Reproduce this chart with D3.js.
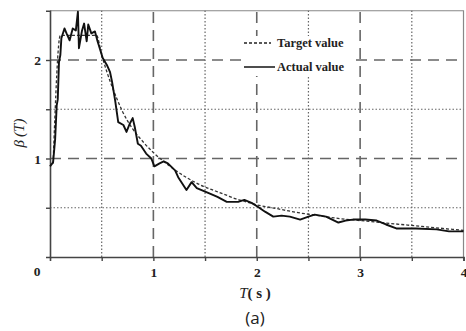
<!DOCTYPE html>
<html>
<head>
<meta charset="utf-8">
<script src="https://cdn.jsdelivr.net/npm/d3@7"></script>
<style>
  body { margin: 0; background: #fff; }
</style>
</head>
<body>
<div id="chart"></div>
<script>
// spectrum values: [T (s), beta]
const targetValues = [
  [0.03, 0.95], [0.1, 2.25], [0.45, 2.25], [0.5, 2.05], [0.55, 1.88], [0.6, 1.73],
  [0.65, 1.6], [0.7, 1.48], [0.8, 1.3], [0.9, 1.17], [1.0, 1.06], [1.1, 0.97],
  [1.2, 0.89], [1.3, 0.82], [1.4, 0.76], [1.5, 0.71], [1.6, 0.67], [1.7, 0.63],
  [1.8, 0.59], [1.9, 0.56], [2.0, 0.53], [2.2, 0.49], [2.4, 0.45], [2.6, 0.42],
  [2.8, 0.39], [3.0, 0.37], [3.2, 0.35], [3.4, 0.33], [3.6, 0.31], [3.8, 0.29], [4.0, 0.27]
];

const actualValues = [
  [0.0, 0.92], [0.03, 0.96], [0.05, 1.2], [0.065, 1.54], [0.075, 1.6], [0.087, 1.98],
  [0.1, 2.05], [0.11, 2.22], [0.14, 2.32], [0.16, 2.27], [0.19, 2.2], [0.22, 2.32],
  [0.25, 2.3], [0.27, 2.49], [0.28, 2.12], [0.31, 2.3], [0.33, 2.37], [0.355, 2.19],
  [0.37, 2.36], [0.4, 2.27], [0.435, 2.29], [0.46, 2.19], [0.51, 2.02], [0.55, 1.95],
  [0.58, 1.88], [0.6, 1.78], [0.63, 1.59], [0.66, 1.37], [0.71, 1.34], [0.74, 1.27],
  [0.77, 1.35], [0.8, 1.41], [0.82, 1.32], [0.85, 1.15], [0.88, 1.13], [0.93, 1.05],
  [0.98, 1.0], [1.01, 0.92], [1.06, 0.95], [1.1, 0.97], [1.14, 0.95], [1.21, 0.88],
  [1.24, 0.81], [1.32, 0.68], [1.37, 0.76], [1.42, 0.7], [1.53, 0.65], [1.62, 0.61],
  [1.71, 0.56], [1.82, 0.56], [1.88, 0.58], [1.95, 0.55], [2.01, 0.51], [2.08, 0.46],
  [2.16, 0.41], [2.24, 0.42], [2.32, 0.41], [2.42, 0.38], [2.5, 0.41], [2.56, 0.43],
  [2.67, 0.41], [2.79, 0.35], [2.86, 0.37], [2.93, 0.38], [3.05, 0.38], [3.16, 0.37],
  [3.25, 0.33], [3.35, 0.29], [3.54, 0.29], [3.74, 0.28], [3.86, 0.26], [4.0, 0.26]
];

const xTicks = [0.5, 1, 1.5, 2, 2.5, 3, 3.5, 4];
const yTicks = [0.5, 1, 1.5, 2];
const legendItems = ["Target value", "Actual value"];

const width = 466,
  height = 331;
const serif = "'Liberation Serif', 'Times New Roman', serif";

const svg = d3
  .select("#chart")
  .append("svg")
  .attr("width", width)
  .attr("height", height);

const x = d3.scaleLinear().domain([0, 4]).range([50, 463.5]);
const y = d3.scaleLinear().domain([0, 2.5]).range([257, 10.75]);

// frame (top and right)
svg
  .append("path")
  .attr("d", `M${x(0)},${y(2.5)}H${x(4)}V${y(0)}`)
  .style("fill", "none")
  .style("stroke", "#888")
  .style("stroke-width", 1.2);

// grid: long dashes on whole units, dots on the halves
const grid = svg.append("g").attr("class", "grid");
grid
  .selectAll("line.vgrid")
  .data(xTicks.filter((d) => d < 4))
  .join("line")
  .attr("class", "vgrid")
  .attr("x1", (d) => x(d))
  .attr("x2", (d) => x(d))
  .attr("y1", y(0))
  .attr("y2", y(2.5))
  .style("stroke", "#666")
  .style("stroke-width", (d) => (Number.isInteger(d) ? 1.6 : 1.2))
  .style("stroke-dasharray", (d) => (Number.isInteger(d) ? "11,7" : "1.5,2"));

grid
  .selectAll("line.hgrid")
  .data(yTicks)
  .join("line")
  .attr("class", "hgrid")
  .attr("x1", x(0))
  .attr("x2", x(4))
  .attr("y1", (d) => y(d))
  .attr("y2", (d) => y(d))
  .style("stroke", "#666")
  .style("stroke-width", (d) => (Number.isInteger(d) ? 1.6 : 1.2))
  .style("stroke-dasharray", (d) => (Number.isInteger(d) ? "11,7" : "1.5,2"));

// axes
const xAxis = svg
  .append("g")
  .attr("transform", `translate(0,${y(0)})`)
  .call(
    d3
      .axisBottom(x)
      .tickValues(xTicks)
      .tickSize(4)
      .tickPadding(6)
      .tickFormat((d) => (Number.isInteger(d) ? d : ""))
  );
const yAxis = svg
  .append("g")
  .attr("transform", `translate(${x(0)},0)`)
  .call(
    d3
      .axisLeft(y)
      .tickValues(yTicks)
      .tickSize(4)
      .tickPadding(5)
      .tickFormat((d) => (Number.isInteger(d) ? d : ""))
  );
[xAxis, yAxis].forEach((a) => {
  a.attr("font-family", null).attr("font-size", null);
  a.select(".domain").style("stroke", "#444").style("stroke-width", 1.6);
  a.selectAll(".tick line").style("stroke", "#444").style("stroke-width", 1.4);
  a.selectAll(".tick text")
    .style("font-family", serif)
    .style("font-weight", "bold")
    .style("font-size", "13.5px")
    .style("fill", "#222");
});
yAxis.selectAll(".tick text").attr("dy", "0.35em");

// shared origin label
svg
  .append("text")
  .attr("x", 37)
  .attr("y", 276)
  .attr("text-anchor", "middle")
  .style("font-family", serif)
  .style("font-weight", "bold")
  .style("font-size", "13.5px")
  .style("fill", "#222")
  .text("0");

// curves
const line = d3
  .line()
  .x((d) => x(d[0]))
  .y((d) => y(d[1]));

svg
  .append("path")
  .datum(targetValues)
  .attr("d", line.curve(d3.curveMonotoneX))
  .style("fill", "none")
  .style("stroke", "#333")
  .style("stroke-width", 1.3)
  .style("stroke-dasharray", "3,2");

svg
  .append("path")
  .datum(actualValues)
  .attr("d", line.curve(d3.curveLinear))
  .style("fill", "none")
  .style("stroke", "#111")
  .style("stroke-width", 1.9)
  .style("stroke-linejoin", "round");

// legend
const legend = svg.append("g").attr("class", "legend");
legend
  .append("rect")
  .attr("x", 242)
  .attr("y", 36)
  .attr("width", 114)
  .attr("height", 40)
  .style("fill", "#fff");

legend
  .selectAll("line")
  .data(legendItems)
  .join("line")
  .attr("x1", 244)
  .attr("x2", (d, i) => (i === 0 ? 271 : 275))
  .attr("y1", (d, i) => 43 + i * 24)
  .attr("y2", (d, i) => 43 + i * 24)
  .style("stroke", "#222")
  .style("stroke-width", (d, i) => (i === 0 ? 1.3 : 1.6))
  .style("stroke-dasharray", (d, i) => (i === 0 ? "3,2" : null));

legend
  .selectAll("text")
  .data(legendItems)
  .join("text")
  .attr("x", 277)
  .attr("y", (d, i) => 43 + i * 24)
  .attr("dy", "0.35em")
  .style("font-family", serif)
  .style("font-weight", "bold")
  .style("font-size", "12.5px")
  .style("fill", "#222")
  .text((d) => d);

// axis titles
const yTitle = svg
  .append("text")
  .attr("transform", "translate(24,133) rotate(-90)")
  .attr("text-anchor", "middle")
  .style("font-family", serif)
  .style("font-style", "italic")
  .style("font-size", "15px")
  .style("fill", "#222");
yTitle.append("tspan").text("β");
yTitle.append("tspan").attr("dx", 3).text("(");
yTitle.append("tspan").text("T");
yTitle.append("tspan").text(")");

const xTitle = svg
  .append("text")
  .attr("x", 255)
  .attr("y", 298)
  .attr("text-anchor", "middle")
  .style("font-family", serif)
  .style("font-size", "15px")
  .style("fill", "#222");
xTitle.append("tspan").style("font-style", "italic").text("T");
xTitle.append("tspan").style("font-weight", "bold").text("( s )");

svg
  .append("text")
  .attr("x", 255)
  .attr("y", 324)
  .attr("text-anchor", "middle")
  .style("font-family", "'Open Sans', sans-serif")
  .style("font-size", "17px")
  .style("fill", "#222")
  .text("(a)");
</script>
</body>
</html>
